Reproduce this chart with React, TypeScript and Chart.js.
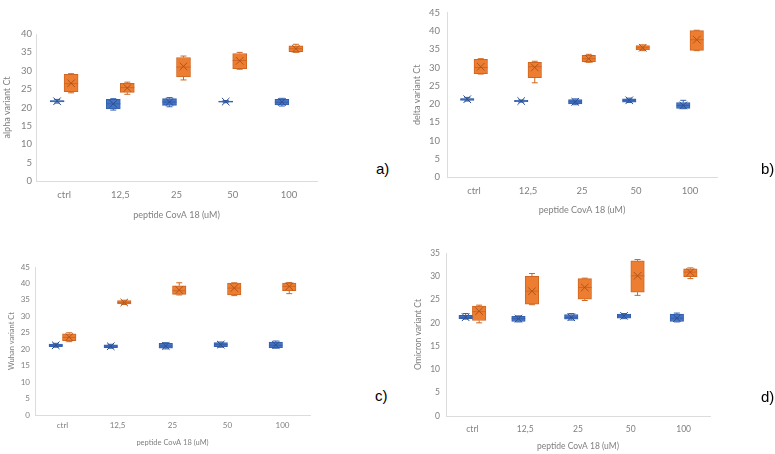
import React, { useEffect, useRef } from "react";
import { Chart, registerables } from "chart.js";

Chart.register(...registerables);

// ---------- data ----------
const categories = ["ctrl", "12,5", "25", "50", "100"];
const xAxisTitle = "peptide CovA 18 (uM)";
const seriesNames = ["Series 1", "Series 2"];

// each entry: [min, q1, median, q3, max, mean]
const alphaBlue = [
  [21.2, 21.5, 21.7, 21.9, 22.2, 21.7],
  [19.3, 19.6, 21.0, 22.2, 22.4, 21.0],
  [20.2, 20.6, 21.5, 22.4, 22.7, 21.5],
  [21.3, 21.45, 21.6, 21.75, 21.9, 21.6],
  [20.4, 20.7, 21.4, 22.2, 22.5, 21.5],
];
const alphaOrange = [
  [24.0, 24.3, 26.5, 29.0, 29.2, 26.6],
  [23.6, 24.1, 25.4, 26.6, 26.9, 25.3],
  [27.5, 28.3, 31.0, 33.6, 34.0, 31.2],
  [30.4, 30.6, 32.8, 34.7, 35.0, 32.7],
  [35.0, 35.2, 36.0, 36.8, 37.2, 36.0],
];
const deltaBlue = [
  [20.8, 21.0, 21.3, 21.5, 21.8, 21.3],
  [20.5, 20.6, 20.8, 21.0, 21.1, 20.8],
  [19.8, 20.0, 20.6, 21.2, 21.4, 20.6],
  [20.4, 20.5, 21.0, 21.4, 21.6, 21.0],
  [18.7, 18.8, 19.6, 20.4, 21.0, 19.6],
];
const deltaOrange = [
  [28.2, 28.3, 30.0, 32.2, 32.4, 30.2],
  [25.8, 27.2, 30.2, 31.4, 31.7, 30.0],
  [31.4, 31.6, 32.4, 33.3, 33.6, 32.4],
  [34.6, 34.8, 35.4, 36.0, 36.2, 35.4],
  [34.6, 34.7, 37.6, 40.1, 40.2, 37.6],
];
const wuhanBlue = [
  [20.6, 20.8, 21.2, 21.6, 21.8, 21.2],
  [20.3, 20.5, 20.9, 21.3, 21.5, 20.9],
  [20.1, 20.3, 21.0, 21.8, 22.0, 21.0],
  [20.6, 20.8, 21.4, 22.0, 22.2, 21.4],
  [20.3, 20.5, 21.2, 22.2, 22.5, 21.3],
];
const wuhanOrange = [
  [22.3, 22.6, 23.6, 24.7, 25.0, 23.7],
  [33.6, 33.8, 34.2, 34.8, 34.9, 34.2],
  [36.5, 36.7, 37.8, 39.3, 40.2, 38.0],
  [36.3, 36.5, 38.6, 40.1, 40.2, 38.6],
  [36.9, 37.8, 39.1, 40.1, 40.3, 39.1],
];
const omicronBlue = [
  [20.8, 20.9, 21.2, 21.6, 22.0, 21.2],
  [20.2, 20.3, 20.9, 21.4, 21.5, 20.9],
  [20.6, 20.8, 21.2, 21.8, 22.0, 21.2],
  [20.9, 21.0, 21.5, 21.9, 22.0, 21.5],
  [20.2, 20.3, 21.0, 21.9, 22.1, 21.0],
];
const omicronOrange = [
  [20.0, 20.5, 22.4, 23.6, 23.8, 22.5],
  [23.9, 24.0, 26.8, 30.0, 30.6, 26.8],
  [24.8, 25.1, 27.6, 29.5, 29.6, 27.6],
  [25.9, 26.6, 30.1, 33.3, 33.6, 30.1],
  [29.5, 29.9, 30.9, 31.6, 31.8, 30.9],
];

// ---------- styling ----------
const TEXT_GRAY = "#808080";
const AXIS_GRAY = "#dcdcdc";
const FONT = "Lato, 'Open Sans', sans-serif";
const BLUE = { fill: "#4472C4", line: "#3460AE", mark: "#2A4F91" };
const ORANGE = { fill: "#ED7D31", line: "#CF6722", mark: "#B0541A" };

const boxPlugin = {
  id: "boxWhisker",
  afterDatasetsDraw(chart: any) {
    const ctx = chart.ctx;
    const ys = chart.scales.y;
    const py = (v: number) => ys.getPixelForValue(v);
    chart.data.datasets.forEach((ds: any, di: number) => {
      const meta = chart.getDatasetMeta(di);
      meta.data.forEach((el: any, i: number) => {
        const s = ds.stats[i];
        if (!s) return;
        const [mn, q1, md, q3, mx, mean] = s;
        const x = el.x;
        const half = el.width / 2;
        ctx.save();
        ctx.strokeStyle = ds.lineColor;
        ctx.lineWidth = 1;
        ctx.beginPath();
        ctx.moveTo(x, py(q3));
        ctx.lineTo(x, py(mx));
        ctx.moveTo(x, py(q1));
        ctx.lineTo(x, py(mn));
        ctx.moveTo(x - 3, py(mx));
        ctx.lineTo(x + 3, py(mx));
        ctx.moveTo(x - 3, py(mn));
        ctx.lineTo(x + 3, py(mn));
        ctx.moveTo(x - half, py(md));
        ctx.lineTo(x + half, py(md));
        ctx.stroke();
        const my = py(mean);
        const r = 3.8;
        ctx.strokeStyle = ds.markColor;
        ctx.beginPath();
        ctx.moveTo(x - r, my - r);
        ctx.lineTo(x + r, my + r);
        ctx.moveTo(x - r, my + r);
        ctx.lineTo(x + r, my - r);
        ctx.stroke();
        ctx.restore();
      });
    });
  },
};

type Geo = {
  left: number; top: number; w: number; h: number;
  yw: number; xh: number; padTop: number; padRight: number;
  tickSize: number; titleSize: number; yTitlePad: number; xTitlePad: number;
  xTickPad: number; yTickPad: number; barThickness: number;
};

function Panel(props: { blue: number[][]; orange: number[][]; yMax: number; yTitle: string; g: Geo }) {
  const ref = useRef<HTMLCanvasElement>(null);
  const { blue, orange, yMax, yTitle, g } = props;
  useEffect(() => {
    if (!ref.current) return;
    const mk = (stats: number[][], c: any, name: string) => ({
      label: name,
      data: stats.map((s) => [s[1], s[3]]),
      stats,
      backgroundColor: c.fill,
      borderColor: c.line,
      borderWidth: 1,
      borderSkipped: false,
      barThickness: g.barThickness,
      lineColor: c.line,
      markColor: c.mark,
    });
    const chart = new Chart(ref.current, {
      type: "bar",
      data: {
        labels: categories,
        datasets: [mk(blue, BLUE, seriesNames[0]), mk(orange, ORANGE, seriesNames[1])] as any,
      },
      options: {
        responsive: false,
        maintainAspectRatio: false,
        animation: false,
        layout: { padding: { left: 0, top: g.padTop, right: g.padRight, bottom: 0 } },
        plugins: { legend: { display: false }, tooltip: { enabled: false } },
        scales: {
          x: {
            grid: { display: false, drawTicks: false },
            border: { display: true, color: AXIS_GRAY },
            ticks: { color: TEXT_GRAY, font: { family: FONT, size: g.tickSize }, padding: g.xTickPad },
            title: {
              display: true,
              text: xAxisTitle,
              color: TEXT_GRAY,
              font: { family: FONT, size: g.titleSize },
              padding: { top: 0, bottom: g.xTitlePad },
            },
            afterFit: (s: any) => { s.height = g.xh; },
          },
          y: {
            min: 0,
            max: yMax,
            grid: { display: false, drawTicks: false },
            border: { display: true, color: AXIS_GRAY },
            ticks: { stepSize: 5, color: TEXT_GRAY, font: { family: FONT, size: g.tickSize }, padding: g.yTickPad },
            title: {
              display: true,
              text: yTitle,
              color: TEXT_GRAY,
              font: { family: FONT, size: g.titleSize },
              padding: { top: g.yTitlePad, bottom: 0 },
            },
            afterFit: (s: any) => { s.width = g.yw; },
          },
        },
      } as any,
      plugins: [boxPlugin],
    });
    return () => chart.destroy();
  }, []);
  return (
    <canvas
      ref={ref}
      width={g.w}
      height={g.h}
      style={{ position: "absolute", left: g.left, top: g.top, width: g.w, height: g.h }}
    />
  );
}

const geoA: Geo = { left: 0, top: 0, w: 340, h: 225, yw: 36, xh: 44, padTop: 34, padRight: 23, tickSize: 9.5, titleSize: 9, yTitlePad: 2, xTitlePad: 5, xTickPad: 8, yTickPad: 4, barThickness: 14 };
const geoB: Geo = { left: 390, top: 0, w: 385, h: 225, yw: 57, xh: 48, padTop: 8, padRight: 58, tickSize: 9.5, titleSize: 9, yTitlePad: 22, xTitlePad: 10, xTickPad: 8, yTickPad: 7, barThickness: 13.5 };
const geoC: Geo = { left: 0, top: 225, w: 340, h: 229, yw: 35, xh: 39, padTop: 42, padRight: 30, tickSize: 8, titleSize: 7.5, yTitlePad: 7, xTitlePad: 7, xTickPad: 6, yTickPad: 5, barThickness: 13.5 };
const geoD: Geo = { left: 390, top: 225, w: 385, h: 229, yw: 56, xh: 38, padTop: 28, padRight: 65, tickSize: 8.5, titleSize: 8.5, yTitlePad: 23, xTitlePad: 3, xTickPad: 8, yTickPad: 6, barThickness: 13.5 };

const labelStyle = (left: number, top: number): React.CSSProperties => ({
  position: "absolute",
  left,
  top,
  fontFamily: "'Liberation Sans', Arial, sans-serif",
  fontSize: 15,
  color: "#000",
  lineHeight: "17px",
});

export default function App() {
  return (
    <div style={{ position: "absolute", left: 0, top: 0, width: 775, height: 454, background: "#fff", overflow: "hidden" }}>
      <Panel blue={alphaBlue} orange={alphaOrange} yMax={40} yTitle="alpha variant Ct" g={geoA} />
      <Panel blue={deltaBlue} orange={deltaOrange} yMax={45} yTitle="delta variant Ct" g={geoB} />
      <Panel blue={wuhanBlue} orange={wuhanOrange} yMax={45} yTitle="Wuhan variant Ct" g={geoC} />
      <Panel blue={omicronBlue} orange={omicronOrange} yMax={35} yTitle="Omicron variant Ct" g={geoD} />
      <div style={labelStyle(376, 160)}>a)</div>
      <div style={labelStyle(761, 160)}>b)</div>
      <div style={labelStyle(375, 387)}>c)</div>
      <div style={labelStyle(761, 388)}>d)</div>
    </div>
  );
}
